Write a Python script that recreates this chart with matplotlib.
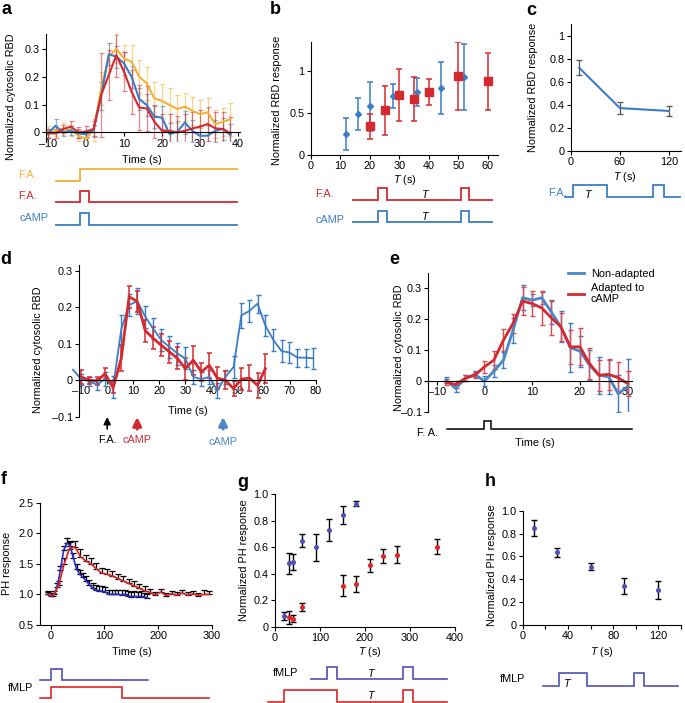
import numpy as np
import matplotlib
matplotlib.use('Agg')
from matplotlib import pyplot as plt
from matplotlib import transforms as mtransforms
from matplotlib.ticker import FuncFormatter
from matplotlib.lines import Line2D

plt.rcParams['font.family'] = ['Liberation Sans', 'DejaVu Sans']
plt.rcParams['mathtext.fontset'] = 'custom'
plt.rcParams['mathtext.it'] = 'Liberation Sans:italic'
plt.rcParams['mathtext.rm'] = 'Liberation Sans'

# warna
kuning = '#f2b134'
merah = '#d42a2f'
biru = '#3b7dc4'
ungu = '#5050b4'
merah2 = '#e02424'

# ---------------- data panel a ----------------
t_a = [-10, -8, -6, -4, -2, 0, 2, 4, 6, 8, 10, 12, 14, 16, 18, 20, 22, 24, 26, 28, 30, 32, 34, 36, 38]
a_kuning = [0.004, 0.005, 0.012, 0.008, -0.012, -0.024, 0.008, 0.158, 0.272, 0.3, 0.266, 0.254, 0.2, 0.176,
            0.122, 0.113, 0.098, 0.084, 0.092, 0.077, 0.065, 0.072, 0.029, 0.038, 0.047]
a_kuning_err = [0.02, 0.02, 0.02, 0.02, 0.02, 0.025, 0.04, 0.06, 0.05, 0.05, 0.05, 0.06, 0.06, 0.06,
                0.06, 0.06, 0.06, 0.05, 0.05, 0.05, 0.05, 0.05, 0.05, 0.05, 0.06]
a_merah = [-0.004, -0.004, 0.012, 0.02, 0.0, 0.002, 0.012, 0.134, 0.206, 0.278, 0.218, 0.146, 0.089, 0.086,
           0.038, 0.005, 0.005, 0.0, 0.005, 0.014, 0.02, 0.03, 0.014, 0.012, -0.004]
a_merah_err = [0.015, 0.015, 0.015, 0.02, 0.02, 0.02, 0.03, 0.15, 0.09, 0.08, 0.07, 0.08, 0.08, 0.08,
               0.06, 0.06, 0.06, 0.06, 0.06, 0.06, 0.06, 0.06, 0.06, 0.06, 0.06]
a_biru = [-0.004, 0.023, 0.0, 0.006, -0.004, -0.007, 0.008, 0.13, 0.281, 0.272, 0.248, 0.2, 0.12, 0.098,
          0.056, 0.053, -0.007, 0.002, 0.035, 0.005, -0.013, -0.012, 0.005, 0.012, -0.01]
a_biru_err = [0.015, 0.025, 0.015, 0.015, 0.015, 0.015, 0.02, 0.05, 0.04, 0.04, 0.04, 0.04, 0.04, 0.04,
              0.04, 0.04, 0.04, 0.04, 0.04, 0.04, 0.04, 0.04, 0.04, 0.04, 0.04]

# ---------------- data panel b ----------------
b_biru_T = [12, 16, 20, 28, 36, 44, 52]
b_biru = [0.25, 0.49, 0.58, 0.7, 0.75, 0.8, 0.93]
b_biru_err = [0.19, 0.19, 0.29, 0.14, 0.17, 0.31, 0.39]
b_merah_T = [20, 25, 30, 35, 40, 50, 60]
b_merah = [0.34, 0.53, 0.71, 0.67, 0.75, 0.94, 0.88]
b_merah_err = [0.15, 0.29, 0.31, 0.26, 0.16, 0.41, 0.34]

# ---------------- data panel c ----------------
c_T = [10, 60, 120]
c_resp = [0.72, 0.37, 0.345]
c_err = [0.065, 0.055, 0.045]

# ---------------- data panel d ----------------
t_d = [-13.1, -10, -6.9, -3.9, -0.8, 2.3, 5.4, 8.4, 11.5, 14.6, 17.6, 20.7, 23.8, 26.9, 29.9, 33.0,
       36.1, 39.1, 42.2, 45.3, 48.4, 51.4, 54.5, 57.6, 60.6, 63.7, 66.8, 69.8, 72.9, 76.0, 79.0]
d_biru = [0.029, 0.003, -0.003, -0.012, 0.003, -0.018, 0.14, 0.206, 0.217, 0.174, 0.142, 0.11, 0.092,
          0.073, 0.06, 0.009, 0.003, 0.009, -0.028, 0.009, 0.036, 0.178, 0.19, 0.21, 0.15, 0.11, 0.08,
          0.076, 0.062, 0.062, 0.06]
d_biru_err = [0.0, 0.015, 0.012, 0.015, 0.02, 0.03, 0.04, 0.03, 0.035, 0.03, 0.03, 0.03, 0.03, 0.03,
              0.03, 0.02, 0.02, 0.02, 0.02, 0.02, 0.03, 0.035, 0.03, 0.025, 0.03, 0.03, 0.03, 0.03,
              0.025, 0.025, 0.028]
d_merah = [0.009, 0.0, -0.002, 0.018, -0.021, 0.06, 0.229, 0.216, 0.136, 0.115, 0.096, 0.078, 0.06,
           0.032, 0.055, 0.023, 0.041, 0.006, 0.0, -0.023, 0.003, 0.006, -0.014, 0.032]
d_merah_err = [0.02, 0.01, 0.012, 0.015, 0.015, 0.035, 0.03, 0.03, 0.03, 0.03, 0.03, 0.03, 0.03, 0.03,
               0.04, 0.025, 0.035, 0.03, 0.025, 0.02, 0.03, 0.035, 0.035, 0.04]

# ---------------- data panel e ----------------
t_e = [-8, -6, -4, -2, 0, 2, 4, 6, 8, 10, 12, 14, 16, 18, 20, 22, 24, 26, 28, 30]
e_biru = [0.003, -0.024, 0.009, 0.022, 0.0, 0.032, 0.068, 0.165, 0.27, 0.262, 0.27, 0.224, 0.176, 0.108,
          0.097, 0.052, 0.019, 0.014, -0.04, -0.018]
e_biru_err = [0.01, 0.01, 0.01, 0.01, 0.015, 0.02, 0.025, 0.04, 0.04, 0.02, 0.02, 0.04, 0.05, 0.08, 0.05,
              0.05, 0.06, 0.055, 0.06, 0.09]
e_merah = [-0.004, -0.011, 0.009, 0.019, 0.046, 0.068, 0.133, 0.187, 0.259, 0.251, 0.237, 0.205, 0.176,
           0.111, 0.111, 0.057, 0.019, 0.022, 0.011, -0.008]
e_merah_err = [0.01, 0.01, 0.01, 0.01, 0.02, 0.03, 0.035, 0.03, 0.045, 0.04, 0.055, 0.055, 0.045, 0.055,
               0.06, 0.05, 0.05, 0.05, 0.05, 0.04]

# ---------------- data panel f ----------------
t_f_biru = [-6, 0, 6, 12, 18, 24, 30, 36, 42, 48, 54, 60, 66, 72, 78, 84, 90, 96, 102, 108, 114, 120,
            126, 132, 138, 144, 150, 156, 162, 168, 174, 180]
f_biru = [1.0, 0.97, 1.0, 1.12, 1.4, 1.72, 1.84, 1.8, 1.6, 1.42, 1.33, 1.28, 1.22, 1.16, 1.1, 1.07,
          1.06, 1.05, 1.04, 1.0, 1.0, 1.0, 1.0, 0.99, 1.0, 0.98, 0.96, 0.97, 0.96, 0.97, 0.96, 0.94]
f_biru_err = [0.04, 0.04, 0.05, 0.06, 0.07, 0.08, 0.08, 0.07, 0.07, 0.07, 0.07, 0.07, 0.08, 0.08, 0.08,
              0.08, 0.08, 0.08, 0.08, 0.08, 0.08, 0.08, 0.08, 0.08, 0.08, 0.08, 0.08, 0.08, 0.08, 0.08,
              0.07, 0.07]
t_f_merah = [-5, 5, 15, 25, 35, 45, 55, 65, 75, 85, 95, 105, 115, 125, 135, 145, 155, 165, 175, 185,
             195, 205, 215, 225, 235, 245, 255, 265, 275, 285, 295]
f_merah = [1.0, 0.98, 1.15, 1.5, 1.75, 1.78, 1.62, 1.55, 1.5, 1.42, 1.35, 1.33, 1.3, 1.26, 1.22, 1.18,
           1.14, 1.1, 1.06, 1.03, 0.99, 1.04, 0.98, 1.01, 0.99, 1.02, 0.99, 1.01, 0.98, 1.0, 1.0]
f_merah_err = [0.05, 0.05, 0.07, 0.1, 0.1, 0.1, 0.12, 0.1, 0.1, 0.09, 0.08, 0.08, 0.08, 0.08, 0.08, 0.08,
               0.08, 0.07, 0.07, 0.06, 0.05, 0.05, 0.05, 0.05, 0.05, 0.05, 0.05, 0.05, 0.05, 0.07, 0.05]

# ---------------- data panel g ----------------
g_biru_T = [20, 30, 40, 60, 90, 120, 150, 180]
g_biru = [0.08, 0.48, 0.49, 0.65, 0.6, 0.73, 0.845, 0.93]
g_biru_err = [0.03, 0.08, 0.06, 0.05, 0.1, 0.085, 0.07, 0.02]
g_merah_T = [30, 40, 60, 150, 180, 210, 240, 270, 360]
g_merah = [0.07, 0.06, 0.15, 0.31, 0.325, 0.465, 0.535, 0.545, 0.605]
g_merah_err = [0.05, 0.025, 0.03, 0.08, 0.06, 0.05, 0.055, 0.065, 0.055]

# ---------------- data panel h ----------------
h_T = [10, 30, 60, 90, 120]
h_resp = [0.845, 0.635, 0.51, 0.345, 0.305]
h_err = [0.07, 0.04, 0.03, 0.07, 0.08]

W, H = 685, 703
fig = plt.figure(figsize=(W / 100, H / 100), dpi=100)
fs = 7.8


def kotak(l, t, r, b):
    return fig.add_axes([l / W, 1 - b / H, (r - l) / W, (b - t) / H])


def tulis(x, y, s, **kw):
    kw.setdefault('fontsize', fs)
    return fig.text(x / W, 1 - y / H, s, **kw)


def fmt_g(v, p):
    return ('%g' % v).replace('-', '\u2013')


def gaya(ax):
    ax.spines['top'].set_visible(False)
    ax.spines['right'].set_visible(False)
    ax.tick_params(labelsize=fs, length=3, width=0.8, pad=1.5)
    for s in ax.spines.values():
        s.set_linewidth(0.8)


def skema(l, t, r, b, xlim, ylim):
    ax = kotak(l, t, r, b)
    ax.set_xlim(xlim)
    ax.set_ylim(ylim)
    ax.axis('off')
    return ax


def pulsa(ax, x0, x1, on_off, base, h, color, lw=1.3):
    xs = [x0]
    ys = [base]
    for on, off in on_off:
        if off is None:
            xs += [on, on, x1]
            ys += [base, base + h, base + h]
        else:
            xs += [on, on, off, off]
            ys += [base, base + h, base + h, base]
    if on_off[-1][1] is not None:
        xs.append(x1)
        ys.append(base)
    ax.plot(xs, ys, color=color, lw=lw, clip_on=False, solid_joinstyle='miter')


# ================= panel a =================
ax = kotak(46, 33.7, 240, 142)
gaya(ax)
ax.spines['bottom'].set_position(('data', 0))
for v, e, c in [(a_kuning, a_kuning_err, kuning), (a_biru, a_biru_err, biru), (a_merah, a_merah_err, merah)]:
    ax.errorbar(t_a, v, yerr=e, color=c, lw=0, elinewidth=0.9, capsize=1.8, capthick=0.9, alpha=0.55)
for v, c in [(a_kuning, kuning), (a_biru, biru), (a_merah, merah)]:
    ax.plot(t_a, v, color=c, lw=1.5)
ax.set_xlim(-10.5, 40.5)
ax.set_ylim(-0.035, 0.355)
ax.set_xticks([-10, 0, 10, 20, 30, 40])
ax.set_yticks([0, 0.1, 0.2, 0.3])
ax.xaxis.set_major_formatter(FuncFormatter(fmt_g))
ax.yaxis.set_major_formatter(FuncFormatter(fmt_g))
tulis(142, 160, 'Time (s)', ha='center', va='center')
tulis(11, 97, 'Normalized cytosolic RBD', rotation=90, ha='center', va='center')

sa = skema(46, 165, 240, 230, (-10.5, 40.5), (0, 65))
pulsa(sa, -8, 39.7, [(-1.5, None)], 49, 12, kuning)
pulsa(sa, -8, 39.7, [(-1.5, 0.9)], 28, 11, merah)
pulsa(sa, -8, 39.7, [(-1.5, 0.9)], 5, 12, biru)
tulis(18, 175, 'F.A.', color=kuning, va='center')
tulis(18, 196, 'F.A.', color=merah, va='center')
tulis(19, 218, 'cAMP', color=biru, va='center')

# ================= panel b =================
ax = kotak(311, 41.6, 498, 155)
gaya(ax)
ax.errorbar(b_biru_T, b_biru, yerr=b_biru_err, fmt='D', ms=3, color=biru, elinewidth=1.1, capsize=2.2,
            capthick=1.1)
ax.errorbar(b_merah_T, b_merah, yerr=b_merah_err, fmt='s', ms=5.5, color=merah, elinewidth=1.1,
            capsize=2.2, capthick=1.1)
ax.set_xlim(0, 63.5)
ax.set_ylim(0, 1.35)
ax.set_xticks([0, 10, 20, 30, 40, 50, 60])
ax.set_yticks([0, 0.5, 1])
ax.yaxis.set_major_formatter(FuncFormatter(fmt_g))
tulis(405, 180, '$T$ (s)', ha='center', va='center')
tulis(277, 100, 'Normalized RBD response', rotation=90, ha='center', va='center')

sb = skema(311, 180, 498, 230, (0, 63.5), (0, 50))
pulsa(sb, 14.3, 61.6, [(22.8, 25.9), (51.0, 53.7)], 30, 12, merah)
pulsa(sb, 14.3, 61.6, [(22.8, 25.9), (51.0, 53.7)], 8, 11, biru)
sb.text(38.8, 36, '$T$', ha='center', va='center', fontsize=fs)
sb.text(38.8, 14, '$T$', ha='center', va='center', fontsize=fs)
tulis(315, 194, 'F.A.', color=merah, va='center')
tulis(315, 220, 'cAMP', color=biru, va='center')

# ================= panel c =================
ax = kotak(571, 24, 681, 150.7)
gaya(ax)
ax.errorbar(c_T, c_resp, yerr=c_err, color=biru, lw=1.5, ecolor='#555555', elinewidth=0.9, capsize=2.2,
            capthick=0.9)
ax.set_xlim(0, 135)
ax.set_ylim(0, 1.1)
ax.set_xticks([0, 60, 120])
ax.set_yticks([0, 0.2, 0.4, 0.6, 0.8, 1])
ax.yaxis.set_major_formatter(FuncFormatter(fmt_g))
tulis(625, 177, '$T$ (s)', ha='center', va='center')
tulis(533, 87, 'Normalized RBD response', rotation=90, ha='center', va='center')

sc = skema(571, 175, 681, 205, (0, 135), (0, 30))
pulsa(sc, -7.4, 134, [(2.5, 44), (100.7, 114)], 8, 12, biru)
sc.text(22, 11, '$T$', ha='center', va='center', fontsize=fs)
tulis(567, 193, 'F.A.', color=biru, ha='right', va='center')

# ================= panel d =================
ax = kotak(79, 265, 316, 416.7)
gaya(ax)
ax.spines['bottom'].set_position(('data', 0))
ax.errorbar(t_d, d_biru, yerr=d_biru_err, color=biru, lw=0, elinewidth=1.0, capsize=1.8, capthick=1.0)
ax.errorbar(t_d[1:25], d_merah, yerr=d_merah_err, color=merah, lw=0, elinewidth=1.1, capsize=1.8,
            capthick=1.1)
ax.plot(t_d, d_biru, color=biru, lw=1.3, clip_on=False)
ax.plot(t_d[1:25], d_merah, color=merah, lw=2.0)
ax.set_xlim(-10.8, 80)
ax.set_ylim(-0.1, 0.316)
ax.set_xticks([-10, 0, 10, 20, 30, 40, 50, 60, 70, 80])
ax.set_yticks([-0.1, 0, 0.1, 0.2, 0.3])
ax.xaxis.set_major_formatter(FuncFormatter(fmt_g))
ax.yaxis.set_major_formatter(FuncFormatter(fmt_g))
tulis(188, 411, 'Time (s)', ha='center', va='center')
tulis(38, 350, 'Normalized cytosolic RBD', rotation=90, ha='center', va='center')
tr = mtransforms.blended_transform_factory(ax.transData, fig.transFigure)
for tx, c, lw, lab, ylab in [(0, 'black', 1.2, 'F.A.', 440), (11.5, merah, 2.2, 'cAMP', 440),
                             (44.4, '#4f86c6', 2.2, 'cAMP', 442)]:
    ax.annotate('', xy=(tx, 1 - 417 / H), xytext=(tx, 1 - 429 / H), xycoords=tr, textcoords=tr,
                arrowprops=dict(arrowstyle='-|>', color=c, lw=lw, mutation_scale=8 + lw * 2,
                                shrinkA=0, shrinkB=0))
    ax.text(tx, 1 - ylab / H, lab, transform=tr, color=c, ha='center', va='center', fontsize=fs)

# ================= panel e =================
ax = kotak(428, 273, 632, 412)
gaya(ax)
ax.spines['bottom'].set_position(('data', 0))
ax.errorbar(t_e, e_biru, yerr=e_biru_err, color=biru, lw=0, elinewidth=1.0, capsize=1.8, capthick=1.0)
ax.errorbar(t_e, e_merah, yerr=e_merah_err, color='#dc4a4f', lw=0, elinewidth=1.0, capsize=1.8,
            capthick=1.0)
ax.plot(t_e, e_biru, color='#4a86c8', lw=2.0)
ax.plot(t_e, e_merah, color=merah, lw=2.0)
ax.set_xlim(-11.8, 30.9)
ax.set_ylim(-0.1, 0.35)
ax.set_xticks([-10, 0, 10, 20, 30])
ax.set_yticks([-0.1, 0, 0.1, 0.2, 0.3])
ax.xaxis.set_major_formatter(FuncFormatter(fmt_g))
ax.yaxis.set_major_formatter(FuncFormatter(fmt_g))
ax.legend([Line2D([], [], color='#4a86c8', lw=2), Line2D([], [], color=merah, lw=2)],
          ['Non-adapted', 'Adapted to\ncAMP'], loc='upper left', bbox_to_anchor=(568 / W, 1 - 269 / H),
          bbox_transform=fig.transFigure, frameon=False, fontsize=fs, handlelength=1.5,
          handletextpad=0.6, borderaxespad=0, borderpad=0, labelspacing=0.35)
tulis(535, 443, 'Time (s)', ha='center', va='center')
tulis(399, 348, 'Normalized cytosolic RBD', rotation=90, ha='center', va='center')

se = skema(428, 415, 632, 435, (-11.8, 30.9), (0, 20))
pulsa(se, -7.9, 30.9, [(0, 1.4)], 6, 8, 'black', lw=1.1)
tulis(417, 433, 'F. A.', va='center')

# ================= panel f =================
ax = kotak(40, 502.7, 211.8, 625)
gaya(ax)
ax.errorbar(t_f_merah, f_merah, yerr=[np.zeros(len(f_merah)), f_merah_err], color='black', lw=0,
            elinewidth=0.9, capsize=2, capthick=0.9)
ax.errorbar(t_f_biru, f_biru, yerr=[np.zeros(len(f_biru)), f_biru_err], color='black', lw=0,
            elinewidth=0.9, capsize=2, capthick=0.9)
ax.plot(t_f_biru, f_biru, color='#2a2ad0', lw=1.2)
ax.plot(t_f_merah, f_merah, color=merah2, lw=1.2)
ax.set_xlim(-20, 300)
ax.set_ylim(0.5, 2.5)
ax.set_xticks([0, 100, 200, 300])
ax.set_yticks([0.5, 1.0, 1.5, 2.0, 2.5])
ax.yaxis.set_major_formatter(FuncFormatter(lambda v, p: '%.1f' % v))
tulis(131.7, 651.7, 'Time (s)', ha='center', va='center')
tulis(7, 563, 'PH response', rotation=90, ha='center', va='center')

sf = skema(40, 660, 211.8, 703, (-20, 300), (0, 43))
pulsa(sf, -20, 182, [(0, 21.6)], 23, 11, ungu, lw=1.2)
pulsa(sf, -20, 294, [(0, 133)], 5, 11.3, merah2, lw=1.2)
tulis(8, 688, 'fMLP', va='center')

# ================= panel g =================
ax = kotak(275, 494.3, 455, 626.7)
gaya(ax)
ax.errorbar(g_biru_T, g_biru, yerr=g_biru_err, fmt='o', ms=2.6, mfc=ungu, mec=ungu, ecolor='black',
            elinewidth=1.0, capsize=2.2, capthick=1.0)
ax.errorbar(g_merah_T, g_merah, yerr=g_merah_err, fmt='o', ms=2.6, mfc=merah2, mec=merah2,
            ecolor='black', elinewidth=1.0, capsize=2.2, capthick=1.0)
ax.set_xlim(0, 400)
ax.set_ylim(0, 1.0)
ax.set_xticks([0, 100, 200, 300, 400])
ax.set_yticks([0, 0.2, 0.4, 0.6, 0.8, 1.0])
ax.yaxis.set_major_formatter(FuncFormatter(lambda v, p: '0' if v == 0 else '%.1f' % v))
tulis(370, 651.7, '$T$ (s)', ha='center', va='center')
tulis(244, 560, 'Normalized PH response', rotation=90, ha='center', va='center')

sg = skema(275, 660, 455, 703, (0, 400), (0, 43))
pulsa(sg, 80, 382, [(115.6, 138), (284, 307)], 24.3, 11.7, ungu, lw=1.2)
pulsa(sg, -15.6, 382, [(20, 138), (284, 307)], 1.3, 11.7, merah2, lw=1.2)
sg.text(214, 30.3, '$T$', ha='center', va='center', fontsize=fs)
sg.text(214, 8, '$T$', ha='center', va='center', fontsize=fs)
tulis(298, 672.7, 'fMLP', ha='right', va='center')

# ================= panel h =================
ax = kotak(522.7, 510.7, 681, 625)
gaya(ax)
ax.errorbar(h_T, h_resp, yerr=h_err, fmt='o', ms=2.6, mfc=ungu, mec=ungu, ecolor='black',
            elinewidth=1.0, capsize=2.2, capthick=1.0)
ax.set_xlim(0, 140)
ax.set_ylim(0, 1.0)
ax.set_xticks([0, 20, 40, 60, 80, 100, 120, 140])
ax.set_xticklabels(['0', '', '40', '', '80', '', '120', ''])
ax.set_yticks([0, 0.2, 0.4, 0.6, 0.8, 1.0])
ax.yaxis.set_major_formatter(FuncFormatter(lambda v, p: '0' if v == 0 else '%.1f' % v))
tulis(601.7, 651.7, '$T$ (s)', ha='center', va='center')
tulis(492, 565, 'Normalized PH response', rotation=90, ha='center', va='center')

sh = skema(522.7, 665, 681, 695, (0, 140), (0, 30))
pulsa(sh, 17.7, 137.4, [(32.4, 56.6), (98.5, 107.3)], 9, 13, ungu, lw=1.2)
sh.text(40, 12, '$T$', ha='center', va='center', fontsize=fs)
tulis(500, 679, 'fMLP', va='center')

# huruf panel
for x, y, s in [(2, 1, 'a'), (270, 1, 'b'), (526, 2, 'c'), (0, 251, 'd'), (389, 251, 'e'),
                (1, 471, 'f'), (237, 474, 'g'), (485, 473, 'h')]:
    tulis(x, y, s, fontsize=13, fontweight='bold', va='top', ha='left')

fig.savefig('out.png', dpi=100)
